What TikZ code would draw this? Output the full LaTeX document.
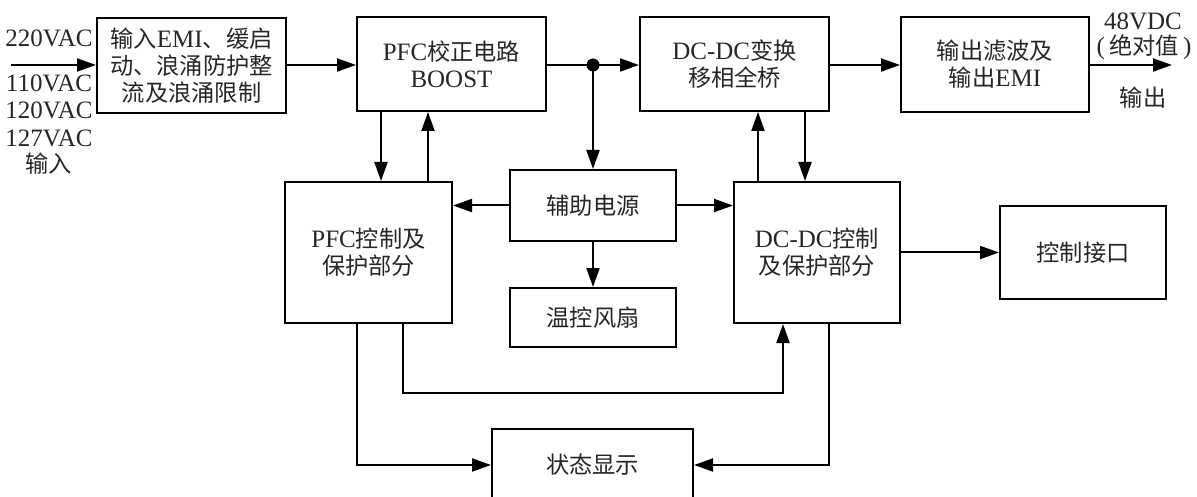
\documentclass[tikz,border=0pt]{standalone}
\usepackage{fontspec}
\setmainfont{Liberation Serif}
\newfontfamily\cjk[Scale=0.93]{Noto Sans CJK SC}
\newcommand\zh[1]{{\cjk #1}}
\usetikzlibrary{arrows.meta,calc}
\begin{document}
\begin{tikzpicture}[x=1pt,y=-1pt,
  box/.style={draw,line width=2pt,align=center,inner sep=0pt,
    font=\fontsize{25}{27}\selectfont,text=black!85},
  lbl/.style={align=center,inner sep=0pt,font=\fontsize{25}{27}\selectfont,text=black!85},
  arr/.style={line width=2pt,-{Triangle[length=19pt,width=13pt]}},
  ln/.style={line width=2pt}]
\useasboundingbox (0,0) rectangle (1197,497);
% boxes
\node[box,minimum width=189,minimum height=95] (in) at (191.5,65.5)
  {\zh{输入}EMI\zh{、缓启}\\\zh{动、浪涌防护整}\\\zh{流及浪涌限制}};
\node[box,minimum width=189,minimum height=94] (pfc) at (451.5,64)
  {PFC\zh{校正电路}\\BOOST};
\node[box,minimum width=189,minimum height=94] (dcdc) at (734.5,64)
  {DC-DC\zh{变换}\\\zh{移相全桥}};
\node[box,minimum width=188,minimum height=95] (outf) at (995,64.5)
  {\zh{输出滤波及}\\\zh{输出}EMI};
\node[box,minimum width=167,minimum height=141] (pfcc) at (368.5,252.5)
  {PFC\zh{控制及}\\\zh{保护部分}};
\node[box,minimum width=166,minimum height=71] (aux) at (593,205.5) {\zh{辅助电源}};
\node[box,minimum width=166,minimum height=59] (fan) at (593,317.5) {\zh{温控风扇}};
\node[box,minimum width=166,minimum height=141] (dcc) at (817,252.5)
  {DC-DC\zh{控制}\\\zh{及保护部分}};
\node[box,minimum width=166,minimum height=93] (ctl) at (1083,252.5) {\zh{控制接口}};
\node[box,minimum width=201,minimum height=72] (stat) at (592.5,465) {\zh{状态显示}};
% labels
\node[lbl] (v220) at (49,38) {220VAC};
\node[lbl] (v110) at (49,83) {110VAC};
\node[lbl] (v120) at (49,110) {120VAC};
\node[lbl] (v127) at (49,138) {127VAC};
\node[lbl] (vin) at (49,164) {\zh{输入}};
\node[lbl] (v48) at (1143,21) {48VDC};
\node[lbl] (vabs) at (1144,47) {(\,\zh{绝对值}\,)};
\node[lbl] (vout) at (1143,98) {\zh{输出}};
% helper coordinates
\coordinate (src) at (11,65);
\coordinate (dst) at (1172,65);
\coordinate (j) at (593,65);
\coordinate (xa) at (381,0);
\coordinate (xb) at (428,0);
\coordinate (xc) at (758,0);
\coordinate (xd) at (805,0);
\coordinate (xe) at (357,0);
\coordinate (xf) at (403,0);
\coordinate (xg) at (783,0);
\coordinate (xh) at (829,0);
\coordinate (ylow) at (0,393);
% main flow
\draw[arr] (src) -- (src -| in.west);
\draw[arr] (in.east |- src) -- (src -| pfc.west);
\draw[ln] (pfc.east |- j) -- (j);
\draw[arr] (j) -- (j -| dcdc.west);
\draw[arr] (dcdc.east |- j) -- (j -| outf.west);
\draw[arr] (outf.east |- j) -- (dst);
\fill (j) circle (6.5);
\draw[arr] (j) -- (aux.north);
% pfc <-> pfcc
\draw[arr] (xa |- pfc.south) -- (xa |- pfcc.north);
\draw[arr] (xb |- pfcc.north) -- (xb |- pfc.south);
% dcdc <-> dcc
\draw[arr] (xc |- dcc.north) -- (xc |- dcdc.south);
\draw[arr] (xd |- dcdc.south) -- (xd |- dcc.north);
% aux
\draw[arr] (aux.west) -- (aux.west -| pfcc.east);
\draw[arr] (aux.east) -- (aux.east -| dcc.west);
\draw[arr] (aux.south) -- (fan.north);
\draw[arr] (dcc.east) -- (ctl.west);
% bottom loops
\draw[arr] (xf |- pfcc.south) -- (xf |- ylow) -- (xg |- ylow) -- (xg |- dcc.south);
\draw[arr] (xe |- pfcc.south) |- (stat.west);
\draw[arr] (xh |- dcc.south) |- (stat.east);
\end{tikzpicture}
\end{document}
